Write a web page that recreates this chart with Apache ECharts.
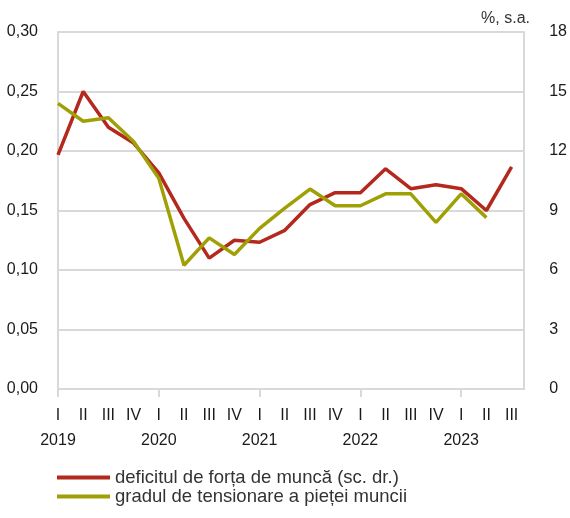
<!DOCTYPE html>
<html>
<head>
<meta charset="utf-8">
<script src="https://cdn.jsdelivr.net/npm/echarts@6/dist/echarts.min.js"></script>
<style>
  html, body { margin: 0; padding: 0; background: #fff; }
  #chart { width: 570px; height: 518px; }
</style>
</head>
<body>
<div id="chart"></div>
<script>
  // trimestre si ani (axa orizontala)
  const quarterLabels = ['I', 'II', 'III', 'IV', 'I', 'II', 'III', 'IV', 'I', 'II', 'III', 'IV', 'I', 'II', 'III', 'IV', 'I', 'II', 'III']
  const yearLabels = ['2019', '', '', '', '2020', '', '', '', '2021', '', '', '', '2022', '', '', '', '2023', '', '']
  // deficitul de forta de munca (%, scala dreapta)
  const deficitValues = [11.8, 15.0, 13.2, 12.4, 10.9, 8.6, 6.6, 7.5, 7.4, 8.0, 9.3, 9.9, 9.9, 11.1, 10.1, 10.3, 10.1, 9.0, 11.2]
  // gradul de tensionare a pietei muncii (scala stanga)
  const tensionValues = [0.240, 0.225, 0.228, 0.208, 0.177, 0.104, 0.127, 0.113, 0.135, 0.152, 0.168, 0.154, 0.154, 0.164, 0.164, 0.140, 0.164, 0.144]
  const seriesNames = ['deficitul de forța de muncă (sc. dr.)', 'gradul de tensionare a pieței muncii']

  const axisFont = '"Liberation Sans", sans-serif'
  const textFont = '"Liberation Sans", sans-serif'
  const gridColor = '#d9d9d9'

  const chart = echarts.init(document.getElementById('chart'))

  const toPairs = arr => arr.map((v, i) => [i, v])

  const option = {
    animation: false,
    backgroundColor: '#fff',
    grid: { left: 58, right: 41, top: 32, bottom: 129 },
    graphic: [
      {
        type: 'text',
        right: 40,
        top: 11,
        style: { text: '%, s.a.', font: '16px ' + textFont, fill: '#333' }
      }
    ],
    legend: {
      orient: 'vertical',
      left: 57,
      top: 468,
      padding: 0,
      itemWidth: 53,
      itemHeight: 4,
      itemGap: 0,
      icon: 'rect',
      textStyle: { fontFamily: textFont, fontSize: 18.5, color: '#333', lineHeight: 17 },
      data: seriesNames
    },
    xAxis: {
      type: 'value',
      min: 0,
      max: 18.5,
      interval: 1,
      splitLine: { show: false },
      axisLine: { show: true, lineStyle: { color: gridColor, width: 2 } },
      axisTick: {
        show: true,
        customValues: [0, 4, 8, 12, 16],
        length: 8,
        lineStyle: { color: gridColor, width: 2 }
      },
      axisLabel: {
        customValues: quarterLabels.map((q, i) => i),
        margin: 14,
        formatter: v => {
          const i = Math.round(v)
          let s = '{q|' + quarterLabels[i] + '}'
          if (yearLabels[i]) s += '\n{y|' + yearLabels[i] + '}'
          return s
        },
        rich: {
          q: { fontFamily: axisFont, fontSize: 16, color: '#1a1a1a', lineHeight: 25 },
          y: { fontFamily: axisFont, fontSize: 16, color: '#1a1a1a', lineHeight: 25 }
        }
      }
    },
    yAxis: [
      {
        type: 'value',
        min: 0,
        max: 0.3,
        interval: 0.05,
        axisLine: { show: true, lineStyle: { color: gridColor, width: 2 } },
        axisTick: { show: false },
        splitLine: { lineStyle: { color: gridColor, width: 2 } },
        axisLabel: {
          margin: 20,
          fontFamily: axisFont,
          fontSize: 16,
          color: '#1a1a1a',
          formatter: v => v.toFixed(2).replace('.', ',')
        }
      },
      {
        type: 'value',
        min: 0,
        max: 18,
        interval: 3,
        position: 'right',
        axisLine: { show: true, lineStyle: { color: gridColor, width: 2 } },
        axisTick: { show: false },
        splitLine: { show: false },
        axisLabel: {
          margin: 25,
          fontFamily: axisFont,
          fontSize: 16,
          color: '#1a1a1a'
        }
      }
    ],
    series: [
      {
        name: seriesNames[0],
        type: 'line',
        yAxisIndex: 1,
        data: toPairs(deficitValues),
        showSymbol: false,
        color: '#b3291d',
        lineStyle: { width: 3.5, color: '#b3291d' }
      },
      {
        name: seriesNames[1],
        type: 'line',
        yAxisIndex: 0,
        data: toPairs(tensionValues),
        showSymbol: false,
        color: '#9fa006',
        lineStyle: { width: 3.5, color: '#9fa006' }
      }
    ]
  }

  chart.setOption(option)
</script>
</body>
</html>
